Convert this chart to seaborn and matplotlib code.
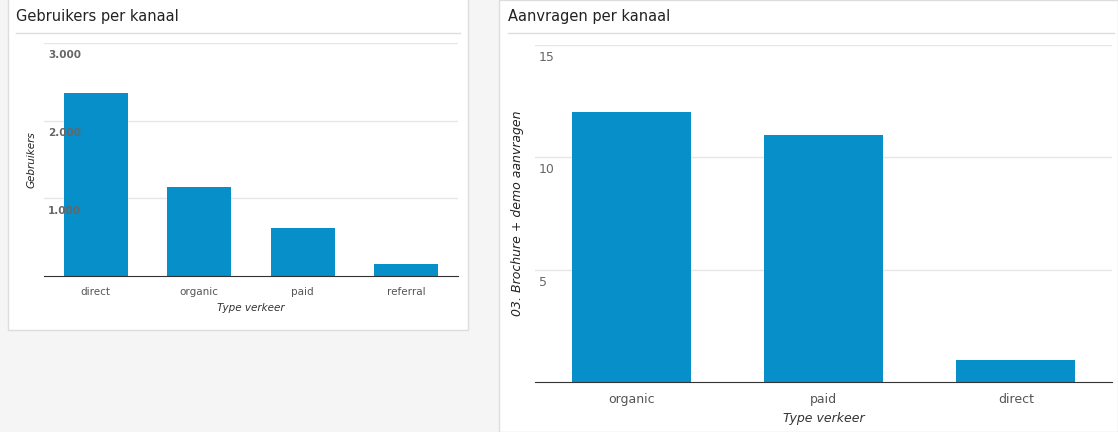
import matplotlib
matplotlib.use("Agg")
import matplotlib.pyplot as plt
import seaborn as sns
import pandas as pd
from matplotlib.patches import Rectangle
from matplotlib.lines import Line2D

# data
kanalen_links = ["direct", "organic", "paid", "referral"]
gebruikers = [2350, 1150, 620, 155]
kanalen_rechts = ["organic", "paid", "direct"]
aanvragen = [12, 11, 1]

W, H = 1118, 432
BAR = "#068fc9"
fig = plt.figure(figsize=(W / 100, H / 100), dpi=100)
fig.patch.set_facecolor("#f5f5f5")

def box(x0, y0, x1, y1):
    return [x0 / W, 1 - y1 / H, (x1 - x0) / W, (y1 - y0) / H]

# cards (behind the axes)
fig.patches.append(Rectangle((8 / W, 1 - 330 / H), 460 / W, 332 / H, transform=fig.transFigure,
                             facecolor="white", edgecolor="#dddddd", lw=1, zorder=-10))
fig.patches.append(Rectangle((499 / W, 0), (W - 499) / W, 1, transform=fig.transFigure,
                             facecolor="white", edgecolor="#dddddd", lw=1, zorder=-10))
fig.text(16 / W, 1 - 16 / H, "Gebruikers per kanaal", fontsize=10.5, color="#222222", va="center")
fig.text(508 / W, 1 - 16 / H, "Aanvragen per kanaal", fontsize=10.5, color="#222222", va="center")
fig.lines.append(Line2D([16 / W, 460 / W], [1 - 33 / H] * 2, transform=fig.transFigure,
                        color="#dddddd", lw=1, zorder=-5))
fig.lines.append(Line2D([508 / W, 1114 / W], [1 - 33 / H] * 2, transform=fig.transFigure,
                        color="#dddddd", lw=1, zorder=-5))

def draw(ax, cats, vals, ymax, ticks, ticklabels, ylabel, ylabel_x, fs):
    df = pd.DataFrame({"kanaal": cats, "waarde": vals})
    sns.barplot(data=df, x="kanaal", y="waarde", color=BAR, width=0.62, saturation=1, ax=ax, zorder=2)
    ax.set_ylim(0, ymax)
    ax.set_xlim(-0.5, len(cats) - 0.5)
    ax.set_facecolor("none")
    for s in ["top", "right", "left"]:
        ax.spines[s].set_visible(False)
    ax.spines["bottom"].set_color("#333333")
    ax.spines["bottom"].set_zorder(3)
    ax.set_yticks([])
    for t, lab in zip(ticks, ticklabels):
        ax.axhline(t, color="#e6e6e6", lw=1, zorder=0)
        ax.annotate(lab, (0, t), xycoords=("axes fraction", "data"), xytext=(3, -9),
                    textcoords="offset points", fontsize=fs, color="#666666", va="center",
                    fontweight="bold" if fs < 8 else "normal", zorder=3)
    ax.tick_params(axis="x", length=0, labelsize=fs, labelcolor="#555555", pad=8)
    ax.set_xlabel("Type verkeer", fontsize=fs, style="italic", color="#333333", labelpad=4)
    ax.set_ylabel("")
    ax.text(ylabel_x, 0.5, ylabel, rotation=90, transform=ax.transAxes, fontsize=fs,
            style="italic", color="#222222", va="center", ha="center")

ax1 = fig.add_axes(box(44, 43, 458, 276))
draw(ax1, kanalen_links, gebruikers, 3000, [1000, 2000, 3000], ["1.000", "2.000", "3.000"],
     "Gebruikers", -0.03, 7.5)
ax2 = fig.add_axes(box(535, 45, 1112, 382))
draw(ax2, kanalen_rechts, aanvragen, 15, [5, 10, 15], ["5", "10", "15"],
     "03. Brochure + demo aanvragen", -0.03, 9)

fig.savefig("out.png", dpi=100, facecolor=fig.get_facecolor())
